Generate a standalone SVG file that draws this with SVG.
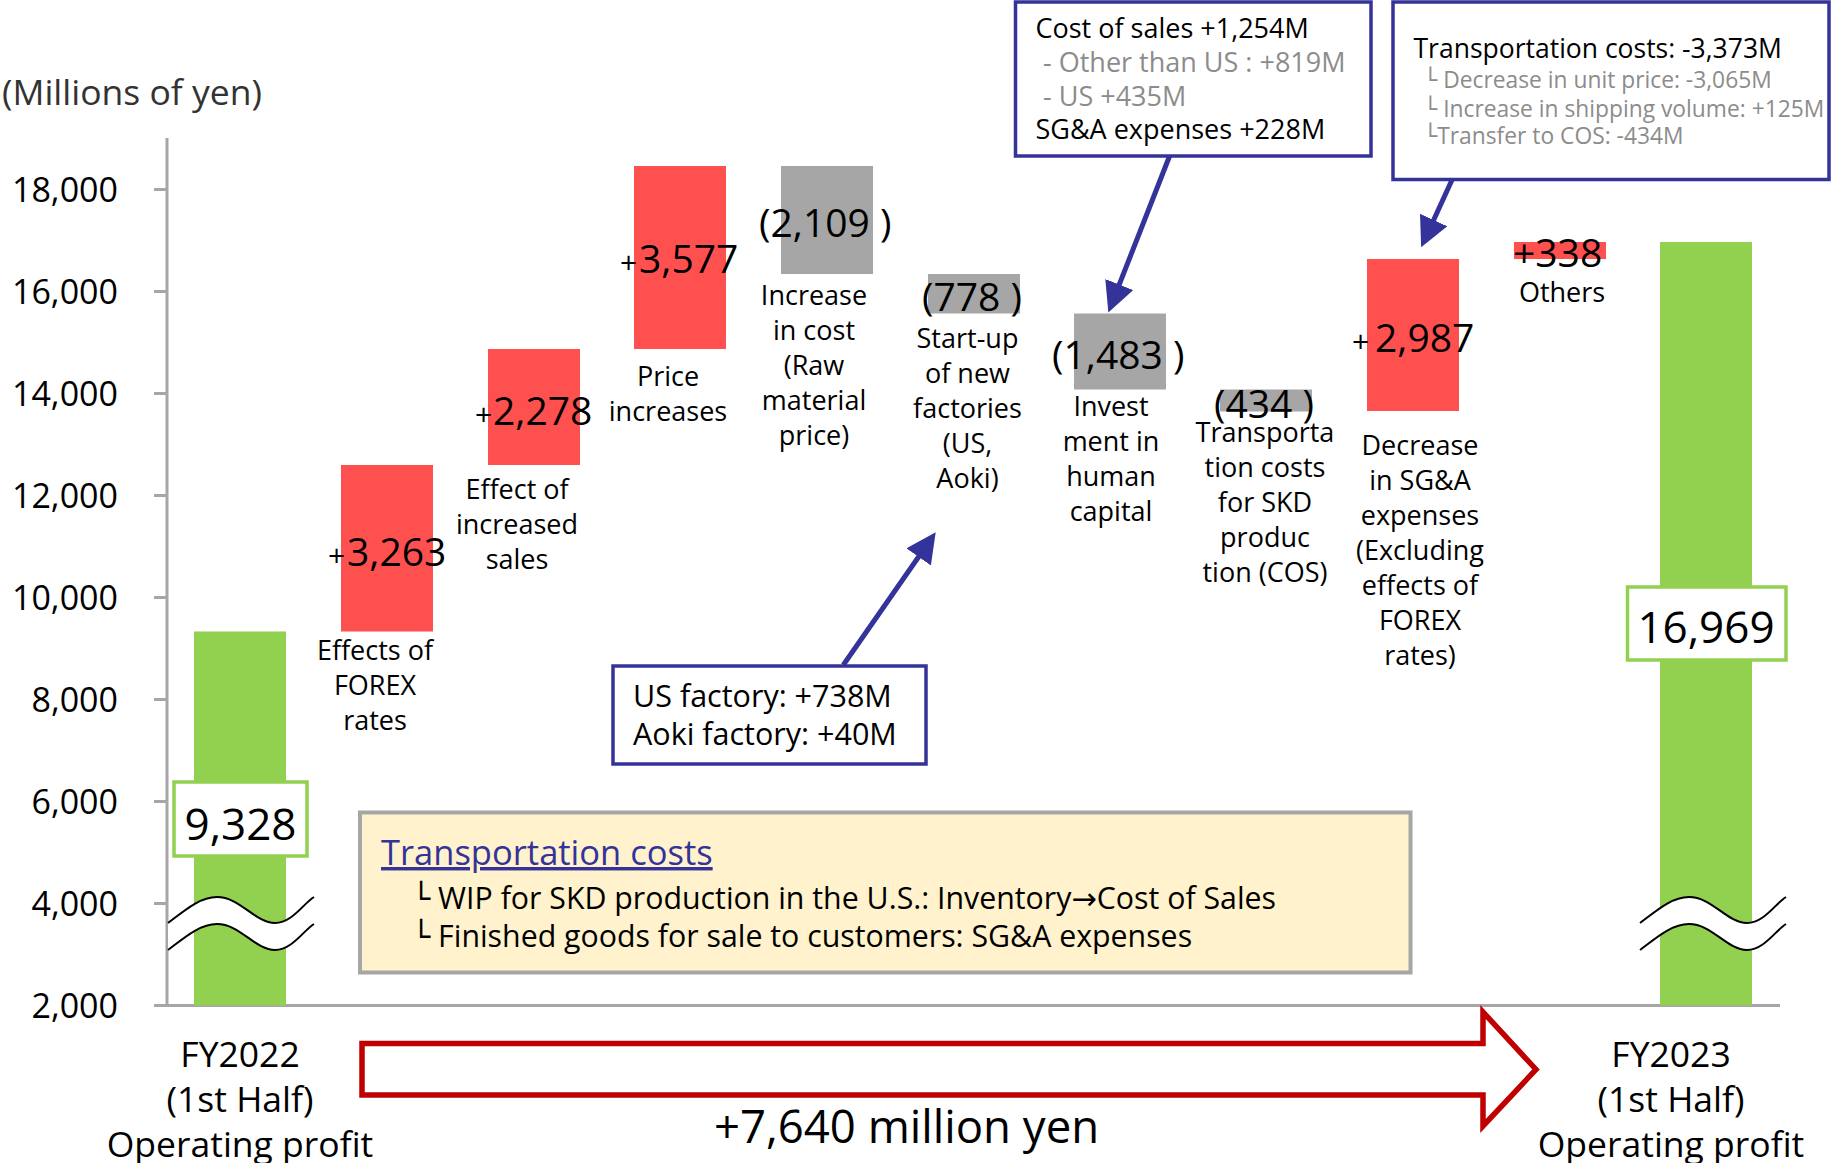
<svg xmlns="http://www.w3.org/2000/svg" width="1831" height="1163" viewBox="0 0 1831 1163">
<style>
text{font-family:"Open Sans","Noto Sans","DejaVu Sans",sans-serif;fill:#000}
.ax{font-size:34px;text-anchor:end}
.cat{font-size:27px;text-anchor:middle}
.num{font-size:39px}
.pl{font-size:30px}
.red{fill:#FF5050}
.gray{fill:#A6A6A6}
.green{fill:#92D050}
.axis{stroke:#A6A6A6;stroke-width:3;fill:none}
.callout{fill:#fff;stroke:#333399;stroke-width:3.5}
.c25{font-size:27px}
.g{fill:#8C8C8C}
.conn{stroke:#333399;stroke-width:5;fill:none}
.brk{fill:#fff;stroke:none}
.brkl{fill:none;stroke:#000;stroke-width:2}
.vbox{fill:#fff;stroke:#92D050;stroke-width:3.5}
.fy{font-size:35.5px;text-anchor:middle}
</style>
<defs>
<marker id="ah" viewBox="0 0 10 10" refX="3" refY="5" markerWidth="6" markerHeight="6" orient="auto" markerUnits="strokeWidth">
<path d="M0,0 L10,5 L0,10 z" fill="#333399"/>
</marker>
<g id="brkshape">
<path class="brk" d="M168,923 C185,910 200,897 217,897 C240,897 255,923 275,923 C292,923 304,903 314,897 L314,924 C304,930 292,950 275,950 C255,950 240,924 217,924 C200,924 185,937 168,950 Z"/>
<path class="brkl" d="M168,923 C185,910 200,897 217,897 C240,897 255,923 275,923 C292,923 304,903 314,897"/>
<path class="brkl" d="M168,950 C185,937 200,924 217,924 C240,924 255,950 275,950 C292,950 304,930 314,924"/>
</g>
</defs>
<rect width="1831" height="1163" fill="#fff"/>

<g id="axes">
<text x="2" y="105" style="font-size:35.5px;fill:#333">(Millions of yen)</text>
<path class="axis" d="M167,138 V1005.5 M154,1005.5 H1780 M154,189.5 H167 M154,291.5 H167 M154,393.5 H167 M154,495.5 H167 M154,597.5 H167 M154,699.5 H167 M154,801.5 H167 M154,903.5 H167"/>
<text class="ax" x="118" y="202">18,000</text>
<text class="ax" x="118" y="304">16,000</text>
<text class="ax" x="118" y="406">14,000</text>
<text class="ax" x="118" y="508">12,000</text>
<text class="ax" x="118" y="610">10,000</text>
<text class="ax" x="118" y="712">8,000</text>
<text class="ax" x="118" y="814">6,000</text>
<text class="ax" x="118" y="916">4,000</text>
<text class="ax" x="118" y="1018">2,000</text>
</g>

<g id="bar-fy2022">
<rect class="green" x="194" y="631.5" width="92" height="374"/>
<use href="#brkshape"/>
<rect class="vbox" x="174" y="782" width="133" height="74"/>
<text x="240.5" y="840" style="font-size:44px;text-anchor:middle">9,328</text>
<text class="fy" x="240" y="1067">FY2022</text>
<text class="fy" x="240" y="1112">(1st Half)</text>
<text class="fy" x="240" y="1157">Operating profit</text>
</g>

<g id="bar-forex">
<rect class="red" x="341" y="465" width="92" height="166.5"/>
<text class="num" x="328" y="566"><tspan class="pl">+</tspan><tspan x="347">3,263</tspan></text>
<text class="cat" x="375" y="660">Effects of<tspan x="375" dy="35">FOREX</tspan><tspan x="375" dy="35">rates</tspan></text>
</g>

<g id="bar-sales">
<rect class="red" x="488" y="349" width="92" height="116"/>
<text class="num" x="475" y="425"><tspan class="pl">+</tspan><tspan x="493">2,278</tspan></text>
<text class="cat" x="517" y="499">Effect of<tspan x="517" dy="35">increased</tspan><tspan x="517" dy="35">sales</tspan></text>
</g>

<g id="bar-price">
<rect class="red" x="634" y="166" width="92" height="183"/>
<text class="num" x="620" y="273"><tspan class="pl">+</tspan><tspan x="639">3,577</tspan></text>
<text class="cat" x="668" y="386">Price<tspan x="668" dy="35">increases</tspan></text>
</g>

<g id="bar-rawmaterial">
<rect class="gray" x="781" y="166" width="92" height="108"/>
<text class="num" x="759" y="237">(2,109 )</text>
<text class="cat" x="814" y="305">Increase<tspan x="814" dy="35">in cost</tspan><tspan x="814" dy="35">(Raw</tspan><tspan x="814" dy="35">material</tspan><tspan x="814" dy="35">price)</tspan></text>
</g>

<g id="bar-startup">
<rect class="gray" x="928" y="274" width="92" height="39.5"/>
<text class="num" x="922" y="311">(778 )</text>
<text class="cat" x="967.5" y="348">Start-up<tspan x="967.5" dy="35">of new</tspan><tspan x="967.5" dy="35">factories</tspan><tspan x="967.5" dy="35">(US,</tspan><tspan x="967.5" dy="35">Aoki)</tspan></text>
</g>

<g id="bar-human">
<rect class="gray" x="1074" y="313.5" width="92" height="76"/>
<text class="num" x="1052" y="369">(1,483 )</text>
<text class="cat" x="1111" y="416">Invest<tspan x="1111" dy="35">ment in</tspan><tspan x="1111" dy="35">human</tspan><tspan x="1111" dy="35">capital</tspan></text>
</g>

<g id="bar-transport">
<rect class="gray" x="1220" y="389.5" width="92" height="22"/>
<text class="num" x="1214" y="418">(434 )</text>
<text class="cat" x="1265" y="442">Transporta<tspan x="1265" dy="35">tion costs</tspan><tspan x="1265" dy="35">for SKD</tspan><tspan x="1265" dy="35">produc</tspan><tspan x="1265" dy="35">tion (COS)</tspan></text>
</g>

<g id="bar-sga">
<rect class="red" x="1367" y="259" width="92" height="152"/>
<text class="num" x="1352" y="352"><tspan class="pl">+</tspan><tspan x="1375">2,987</tspan></text>
<text class="cat" x="1420" y="455">Decrease<tspan x="1420" dy="35">in SG&amp;A</tspan><tspan x="1420" dy="35">expenses</tspan><tspan x="1420" dy="35">(Excluding</tspan><tspan x="1420" dy="35">effects of</tspan><tspan x="1420" dy="35">FOREX</tspan><tspan x="1420" dy="35">rates)</tspan></text>
</g>

<g id="bar-others">
<rect class="red" x="1514" y="242" width="92" height="17"/>
<text class="num" x="1513" y="267">+338</text>
<text class="cat" x="1562" y="302">Others</text>
</g>

<g id="bar-fy2023">
<rect class="green" x="1660" y="242" width="92" height="763.5"/>
<use href="#brkshape" transform="translate(1472,0)"/>
<rect class="vbox" x="1627.5" y="587" width="158.5" height="73"/>
<text x="1706" y="643" style="font-size:44px;text-anchor:middle">16,969</text>
<text class="fy" x="1671" y="1067">FY2023</text>
<text class="fy" x="1671" y="1112">(1st Half)</text>
<text class="fy" x="1671" y="1157">Operating profit</text>
</g>

<g id="callout-cos">
<rect class="callout" x="1015.5" y="2" width="355.5" height="154"/>
<text class="c25" x="1035.5" y="38">Cost of sales +1,254M</text>
<text class="c25 g" x="1043" y="72">- Other than US : +819M</text>
<text class="c25 g" x="1043" y="106">- US +435M</text>
<text class="c25" x="1035.5" y="139">SG&amp;A expenses +228M</text>
</g>

<g id="callout-transport">
<rect class="callout" x="1393" y="2" width="436" height="177.5"/>
<text x="1413.5" y="57.5" style="font-size:26.5px">Transportation costs: -3,373M</text>
<text class="g" x="1423.5" y="87.5" style="font-size:22.8px">└ Decrease in unit price: -3,065M</text>
<text class="g" x="1423.5" y="116.5" style="font-size:22.8px">└ Increase in shipping volume: +125M</text>
<text class="g" x="1423.5" y="144" style="font-size:22.8px">└Transfer to COS: -434M</text>
</g>

<g id="callout-factory">
<rect class="callout" x="613" y="666" width="313" height="98"/>
<text x="633" y="707" style="font-size:30.5px">US factory: +738M</text>
<text x="633" y="745" style="font-size:30.5px">Aoki factory: +40M</text>
</g>

<g id="note-transport">
<rect x="360" y="812.5" width="1050.5" height="160" fill="#FFF2CC" stroke="#A6A6A6" stroke-width="4"/>
<text x="381" y="865" style="font-size:34.5px;fill:#333399;text-decoration:underline">Transportation costs</text>
<text x="412" y="909" style="font-size:30.3px">└ WIP for SKD production in the U.S.: Inventory→Cost of Sales</text>
<text x="412" y="947" style="font-size:30.3px">└ Finished goods for sale to customers: SG&amp;A expenses</text>
</g>

<g id="total-arrow">
<path d="M362,1043.5 H1483 V1012 L1536,1069.5 L1483,1126 V1095 H362 Z" fill="#fff" stroke="#C00000" stroke-width="5.5"/>
<text x="714" y="1143" style="font-size:45.5px">+7,640 million yen</text>
</g>

<g id="connectors">
<line class="conn" x1="1169.6" y1="156" x2="1116" y2="292.9" marker-end="url(#ah)"/>
<line class="conn" x1="1452.4" y1="179" x2="1429.9" y2="228.2" marker-end="url(#ah)"/>
<line class="conn" x1="843.3" y1="665" x2="923.7" y2="549.5" marker-end="url(#ah)"/>
</g>
</svg>
